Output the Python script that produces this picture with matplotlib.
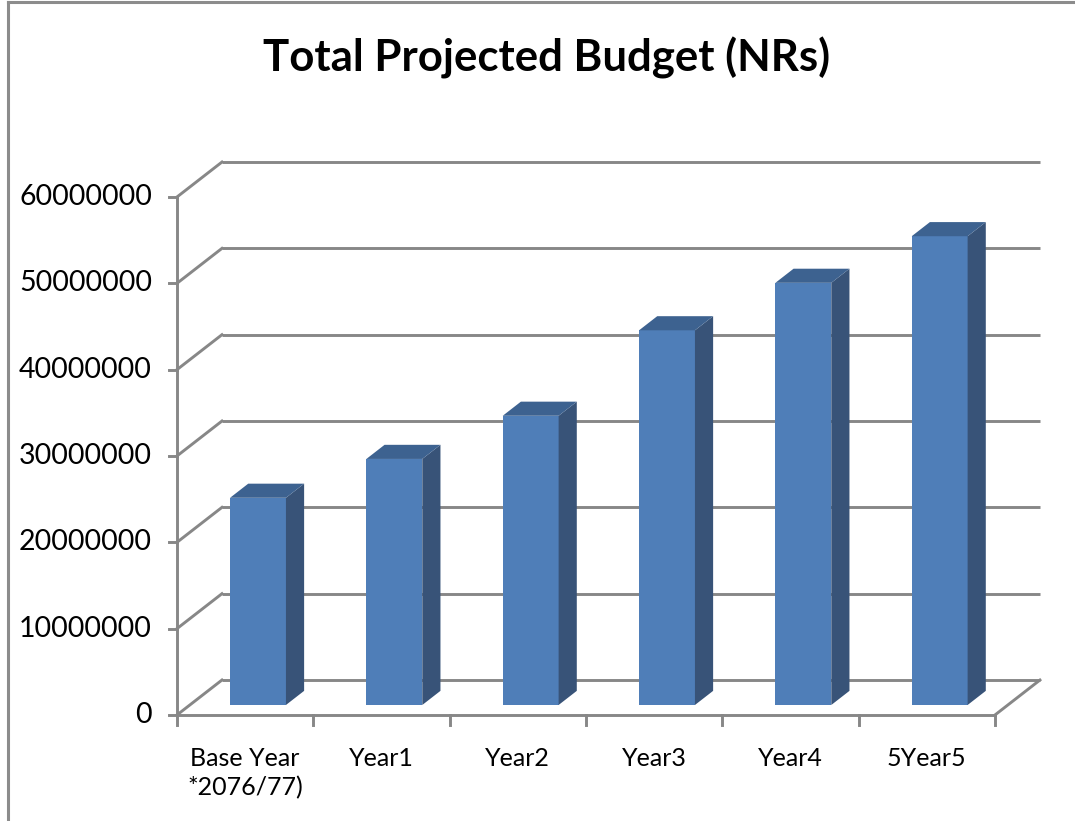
import matplotlib
matplotlib.use("Agg")
import matplotlib.pyplot as plt
from matplotlib.patches import Polygon, Rectangle
from matplotlib.lines import Line2D

# ---- data ----
categories = ["Base Year\n*2076/77)", "Year1", "Year2", "Year3", "Year4", "5Year5"]
values = [24000000, 28500000, 33500000, 43400000, 48900000, 54300000]
ytick_values = [0, 10000000, 20000000, 30000000, 40000000, 50000000, 60000000]
title = "Total Projected Budget (NRs)"

# ---- style / geometry ----
FONT = "Lato"
GRID = "#878787"
FRONT = "#4F7EB8"
SIDE = "#385378"
TOP = "#3D6290"
DX = 0.33          # depth shift in category units (floor depth)
DY = 4.05e6        # depth shift in value units
D0, D1 = 0.286, 0.69   # bar front/back depth fractions
BW = 0.41          # bar width in category units

fig = plt.figure(figsize=(10.75, 8.21), dpi=100)
ax = fig.add_axes([0, 0, 1, 1])
ax.set_xlim(-1.298, 6.587)
ax.set_ylim(-12.28e6, 82.82e6)
ax.axis("off")

def P(x, v, d):
    return (x + d * DX, v + d * DY)

n = len(categories)
lw = 2.1
# back wall gridlines + side wall diagonals
for v in ytick_values:
    a, b = P(0, v, 1), P(n, v, 1)
    ax.plot([a[0], b[0]], [a[1], b[1]], color=GRID, lw=lw, zorder=1, solid_capstyle="butt")
    c = P(0, v, 0)
    ax.plot([c[0], a[0]], [c[1], a[1]], color=GRID, lw=lw, zorder=1)
    # tick on value axis
    ax.plot([-0.06, 0], [v, v], color=GRID, lw=lw, zorder=1)
    ax.text(-0.183, v, f"{v:d}", ha="right", va="center", fontsize=20.5,
            family=FONT, color="black")

# value axis
ax.plot([0, 0], [0, ytick_values[-1]], color=GRID, lw=lw, zorder=1)
# floor: front edge and right diagonal
ax.plot([0, n], [0, 0], color=GRID, lw=lw, zorder=1)
r0, r1 = P(n, 0, 0), P(n, 0, 1)
ax.plot([r0[0], r1[0]], [r0[1], r1[1]], color=GRID, lw=lw, zorder=1)
# category ticks
for i in range(n + 1):
    ax.plot([i, i], [0, -1.2e6], color=GRID, lw=lw, zorder=1)

# bars
for i, val in enumerate(values):
    c = i + 0.5
    xl, xr = c - BW / 2, c + BW / 2
    fl = P(xl, 0, D0)
    ax.add_patch(Rectangle(fl, BW, val, facecolor=FRONT, edgecolor="none", zorder=3))
    side = [P(xr, 0, D0), P(xr, 0, D1), P(xr, val, D1), P(xr, val, D0)]
    ax.add_patch(Polygon(side, closed=True, facecolor=SIDE, edgecolor="none", zorder=3))
    top = [P(xl, val, D0), P(xr, val, D0), P(xr, val, D1), P(xl, val, D1)]
    ax.add_patch(Polygon(top, closed=True, facecolor=TOP, edgecolor="none", zorder=3))
    ax.text(c, -3.7e6, categories[i], ha="center", va="top", fontsize=18,
            family=FONT, color="black", linespacing=1.3)

# title
fig.text(0.508, 0.930, title, ha="center", va="center", fontsize=31.5,
         fontweight="bold", family=FONT, color="black")

# chart frame (left and top edges visible)
fig.add_artist(Line2D([0.0070, 0.0070], [0, 0.998], transform=fig.transFigure,
                      color="#8C8C8C", lw=2.2))
fig.add_artist(Line2D([0.0070, 1.0], [0.997, 0.997], transform=fig.transFigure,
                      color="#8C8C8C", lw=2.2))

fig.savefig("out.png", dpi=100)
